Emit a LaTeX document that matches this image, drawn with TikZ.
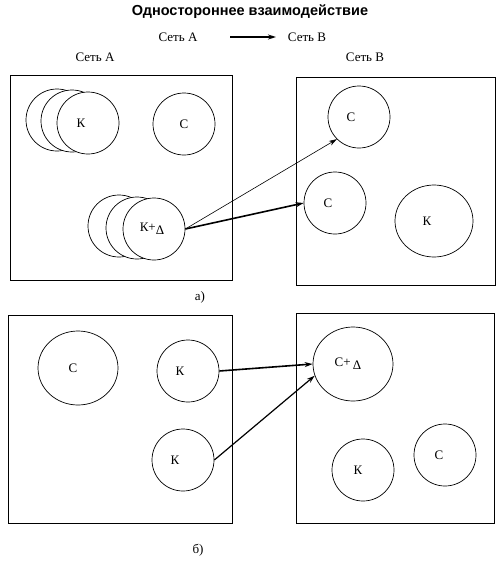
\documentclass[tikz,border=0pt]{standalone}
\usepackage{fontspec}
\setmainfont{Liberation Serif}
\newfontfamily\titlefont{Liberation Sans}
\usetikzlibrary{shapes.geometric,arrows.meta}
\begin{document}
\begin{tikzpicture}[x=1pt,y=-1pt,
  every node/.style={font=\fontsize{13}{15}\selectfont},
  net/.style={draw,line width=0.8pt},
  circ/.style={circle,draw,line width=0.7pt,fill=white,minimum size=62pt,inner sep=0pt},
  oval/.style={ellipse,draw,line width=0.7pt,fill=white,minimum width=80pt,minimum height=74pt,inner sep=0pt},
  thin arrow/.style={-{Stealth[length=8pt,width=5pt]},line width=0.6pt},
  thick arrow/.style={-{Stealth[length=8pt,width=5pt]},line width=1.6pt}]
\useasboundingbox (0,0) rectangle (498,565);
% title and legend
\node (title) at (250,12) {\titlefont\bfseries\fontsize{14.5}{16}\selectfont Одностороннее взаимодействие};
\node (la) at (178,37) {Сеть А};
\node (lb) at (307,37) {Сеть В};
\coordinate (l1) at (230,37);
\coordinate (l2) at (276,37);
\draw[thick arrow] (l1) -- (l2);
\node (na) at (95,57) {Сеть А};
\node (nb) at (365,57) {Сеть В};
% part a
\draw[net] (10,75) rectangle (232,280);
\draw[net] (296,77) rectangle (495,285);
\node[circ] (k3) at (57,120) {};
\node[circ] (k2) at (72,121) {};
\node[circ] (k1) at (88,123) {\hspace*{-14pt}К};
\node[circ] (ca) at (184,124) {С};
\node[circ] (kd3) at (119,226) {};
\node[circ] (kd2) at (137,228) {};
\node[circ] (kd1) at (154,229) {\hspace*{-4pt}К+\raisebox{-3pt}{Δ}};
\node[circ] (cb1) at (359,117) {\hspace*{-16pt}С};
\node[circ] (cb2) at (335,203) {\hspace*{-14pt}С};
\node[oval,minimum height=72pt,minimum width=78pt] (kb) at (434,221) {\hspace*{-14pt}К};
\draw[thin arrow] (kd1.east) -- (cb1.south west);
\draw[thick arrow] (kd1.east) -- (cb2.west);
\node (la2) at (200,297) {а)};
% part b
\draw[net] (8,315) rectangle (232,523);
\draw[net] (296,313) rectangle (494,523);
\node[oval] (c3) at (78,368) {\hspace*{-10pt}С};
\node[circ] (k4) at (188,371) {\hspace*{-16pt}К};
\node[circ] (k5) at (183,460) {\hspace*{-16pt}К};
\node[oval] (cd) at (353,364) {\hspace*{-10pt}С+\,\raisebox{-3pt}{Δ}};
\node[circ] (k6) at (363,470) {\hspace*{-10pt}К};
\node[circ] (c4) at (445,455) {\hspace*{-12pt}С};
\draw[thick arrow] (k4.east) -- (cd.west);
\draw[line width=1.2pt,-{Stealth[length=8pt,width=5pt]}] (k5.east) -- (cd.197);
\node (lb2) at (198,550) {б)};
\end{tikzpicture}
\end{document}
